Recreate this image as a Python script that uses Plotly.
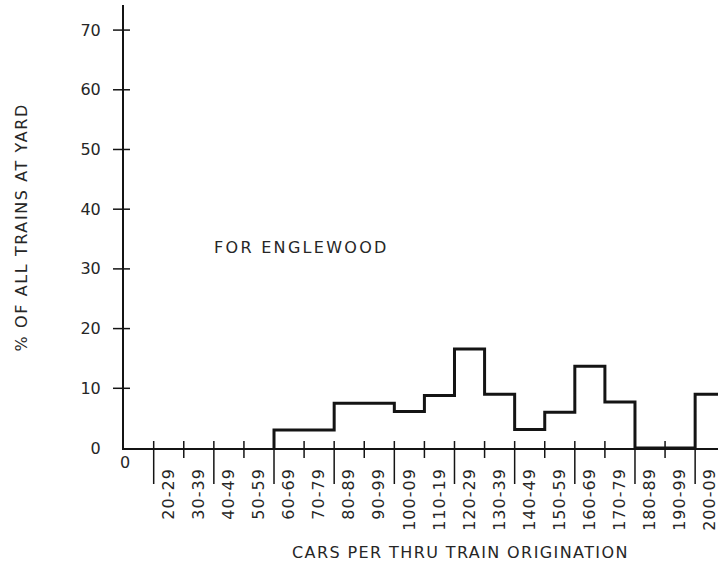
import plotly.graph_objects as go

# Histogram of thru-train originations at Englewood, by cars per train
BIN_WIDTH = 10
bin_lows = [20, 30, 40, 50, 60, 70, 80, 90, 100, 110, 120, 130,
            140, 150, 160, 170, 180, 190, 200]
bin_labels = ["20-29", "30-39", "40-49", "50-59", "60-69", "70-79",
              "80-89", "90-99", "100-09", "110-19", "120-29", "130-39",
              "140-49", "150-59", "160-69", "170-79", "180-89", "190-99",
              "200-09"]
# percent of all trains at the yard (None = no bar drawn)
pct_trains = [None, None, None, None, 3.0, 3.0, 7.5, 7.5, 6.1, 8.8,
              16.6, 9.0, 3.1, 6.0, 13.7, 7.7, 0.0, 0.0, 9.0]
y_tick_vals = [0, 10, 20, 30, 40, 50, 60, 70]

INK = "#141414"
TEXT = "#262626"
FONT = "DejaVu Sans"


def spaced(text, px):
    return f'<span style="letter-spacing:{px}px">{text}</span>'


# Step outline: start on the baseline at the first populated bin
first = next(i for i, v in enumerate(pct_trains) if v is not None)
lows = bin_lows[first:]
vals = pct_trains[first:]
step_x = [lows[0]] + lows + [lows[-1] + BIN_WIDTH]
step_y = [0] + vals + [vals[-1]]

fig = go.Figure()
fig.add_trace(go.Scatter(
    x=step_x, y=step_y, mode="lines",
    line=dict(shape="hv", color=INK, width=3),
    hoverinfo="skip", showlegend=False,
))

# Tick marks: every bin edge crosses the baseline, every 20 cars runs long
shapes = []
for lo in bin_lows:
    long_tick = (lo // BIN_WIDTH) % 2 == 0
    shapes.append(dict(
        type="line", xref="x", yref="y domain",
        x0=lo, x1=lo, ysizemode="pixel", yanchor=0,
        y0=-(36 if long_tick else 10), y1=7,
        line=dict(color=INK, width=1.5),
    ))
for v in y_tick_vals[1:]:
    shapes.append(dict(
        type="line", xref="x domain", yref="y",
        y0=v, y1=v, xsizemode="pixel", xanchor=0,
        x0=-11, x1=6,
        line=dict(color=INK, width=1.5),
    ))

annotations = [
    dict(text="0", xref="x domain", yref="y domain", x=0, y=0,
         xshift=1, yshift=-14, showarrow=False,
         xanchor="center", yanchor="middle",
         font=dict(family=FONT, size=16, color=TEXT)),
    dict(text=spaced("FOR ENGLEWOOD", 2.3), xref="x", yref="y",
         x=69.3, y=33.5, showarrow=False,
         xanchor="center", yanchor="middle",
         font=dict(family=FONT, size=16, color=TEXT)),
    dict(text=spaced("CARS PER THRU TRAIN ORIGINATION", 1.4),
         xref="paper", yref="paper", x=0.567, y=0, yshift=-104,
         showarrow=False, xanchor="center", yanchor="middle",
         font=dict(family=FONT, size=16, color=TEXT)),
    dict(text=spaced("% OF ALL TRAINS AT YARD", 1.6),
         xref="paper", yref="paper", x=0, y=0.5, xshift=-103, yshift=-1,
         textangle=-90, showarrow=False,
         xanchor="center", yanchor="middle",
         font=dict(family=FONT, size=16, color=TEXT)),
]

fig.update_layout(
    width=718, height=567,
    margin=dict(l=124, r=0, t=5, b=119),
    paper_bgcolor="white", plot_bgcolor="white",
    font=dict(family=FONT, size=16, color=TEXT),
    showlegend=False,
    shapes=shapes,
    annotations=annotations,
    xaxis=dict(
        range=[10.13, 207.6],
        tickmode="array",
        tickvals=[lo + BIN_WIDTH / 2 for lo in bin_lows],
        ticktext=[spaced(t, 1) for t in bin_labels],
        tickangle=-90, ticks="", ticklabelstandoff=12,
        ticklabeloverflow="allow",
        tickfont=dict(family=FONT, size=16, color=TEXT),
        showline=True, linecolor=INK, linewidth=1.5,
        showgrid=False, zeroline=False, fixedrange=True,
    ),
    yaxis=dict(
        range=[0, 74.2],
        tickmode="array", tickvals=y_tick_vals,
        ticktext=[str(v) for v in y_tick_vals],
        ticks="", ticklabelstandoff=18,
        tickfont=dict(family=FONT, size=16, color=TEXT),
        showline=True, linecolor=INK, linewidth=2,
        showgrid=False, zeroline=False, fixedrange=True,
    ),
)

fig.write_html("out.html")
